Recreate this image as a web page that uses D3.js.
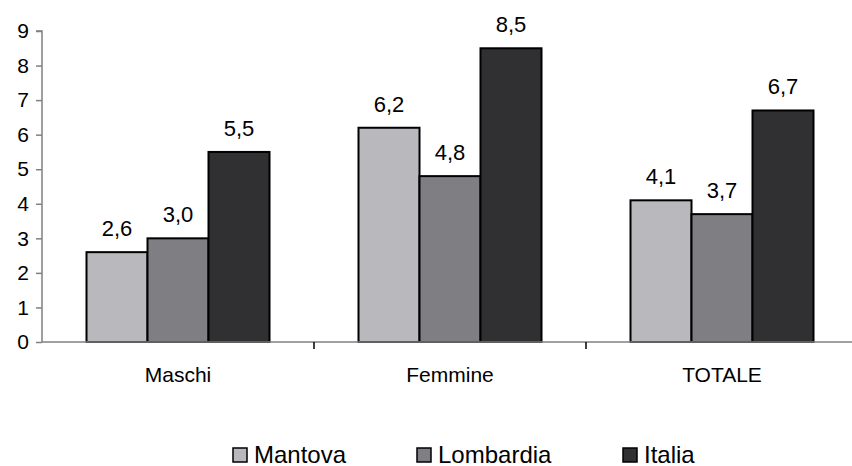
<!DOCTYPE html>
<html>
<head>
<meta charset="utf-8">
<script src="https://cdn.jsdelivr.net/npm/d3@7"></script>
<style>
  html, body { margin: 0; padding: 0; background: #fff; }
  svg { display: block; font-family: "Liberation Sans", Arial, sans-serif; }
</style>
</head>
<body>
<svg id="chart" width="852" height="466"></svg>
<script>
// Categories and series
const categories = ["Maschi", "Femmine", "TOTALE"];
const seriesNames = ["Mantova", "Lombardia", "Italia"];
const mantova = [2.6, 6.2, 4.1];
const lombardia = [3.0, 4.8, 3.7];
const italia = [5.5, 8.5, 6.7];
const yTicks = [0, 1, 2, 3, 4, 5, 6, 7, 8, 9];
const colors = ["#b9b9bd", "#7e7e83", "#303033"];

const seriesValues = [mantova, lombardia, italia];
const rows = categories.map((c, i) => ({
  category: c,
  values: seriesNames.map((s, j) => ({ series: s, value: seriesValues[j][i], idx: j }))
}));

const svg = d3.select("#chart");
const margin = { left: 42, top: 31, plotRight: 858, bottom: 342 };

const y = d3.scaleLinear().domain([0, 9]).range([margin.bottom, margin.top]);
const x0 = d3.scaleBand().domain(categories).range([margin.left, margin.plotRight]).paddingInner(0).paddingOuter(0);
const groupW = 183;
const x1 = d3.scaleBand().domain(seriesNames).range([0, groupW]).padding(0);

const fmt = v => d3.format(".1f")(v).replace(".", ",");

// Y axis
const yAxis = d3.axisLeft(y).tickValues(yTicks).tickSize(6).tickPadding(7).tickFormat(d3.format("d"));
const gy = svg.append("g").attr("transform", `translate(${margin.left},0)`).call(yAxis);
gy.select(".domain").attr("stroke", "#808080").attr("stroke-width", 1.5).attr("d", `M-6,${y(9)}H0V${y(0)}`);
gy.selectAll(".tick line").attr("stroke", "#808080").attr("stroke-width", 1.5);
gy.selectAll(".tick text").attr("font-size", 21).attr("fill", "#000").attr("font-family", "Liberation Sans, Arial, sans-serif");

// Bars
const groups = svg.append("g").selectAll("g")
  .data(rows).join("g")
  .attr("transform", d => `translate(${x0(d.category) + (x0.bandwidth() - groupW) / 2},0)`);

groups.selectAll("rect")
  .data(d => d.values).join("rect")
  .attr("x", d => x1(d.series))
  .attr("y", d => y(d.value))
  .attr("width", x1.bandwidth())
  .attr("height", d => y(0) - y(d.value))
  .attr("fill", d => colors[d.idx])
  .attr("stroke", "#000")
  .attr("stroke-width", 2);

groups.selectAll("text")
  .data(d => d.values).join("text")
  .attr("x", d => x1(d.series) + x1.bandwidth() / 2)
  .attr("y", d => y(d.value) - 16)
  .attr("text-anchor", "middle")
  .attr("font-size", 22)
  .attr("fill", "#000")
  .text(d => fmt(d.value));

// X axis
const gx = svg.append("g").attr("transform", `translate(0,${y(0)})`);
gx.append("line")
  .attr("x1", margin.left).attr("x2", 852)
  .attr("y1", 0).attr("y2", 0)
  .attr("stroke", "#808080").attr("stroke-width", 1.5);
// category separators between groups
gx.selectAll("line.sep")
  .data(categories.slice(1)).join("line")
  .attr("class", "sep")
  .attr("x1", d => x0(d)).attr("x2", d => x0(d))
  .attr("y1", 0).attr("y2", 7)
  .attr("stroke", "#000").attr("stroke-width", 1.5);
gx.selectAll("text.cat")
  .data(categories).join("text")
  .attr("class", "cat")
  .attr("x", d => x0(d) + x0.bandwidth() / 2)
  .attr("y", 40)
  .attr("text-anchor", "middle")
  .attr("font-size", 21)
  .attr("fill", "#000")
  .text(d => d);

// Legend
const legendX = [233, 417, 623];
const legend = svg.append("g").selectAll("g")
  .data(seriesNames).join("g")
  .attr("transform", (d, i) => `translate(${legendX[i]},448)`);
legend.append("rect")
  .attr("width", 14).attr("height", 14)
  .attr("fill", (d, i) => colors[i])
  .attr("stroke", "#000").attr("stroke-width", 1.5);
legend.append("text")
  .attr("x", 21).attr("y", 14.5)
  .attr("font-size", 24)
  .attr("fill", "#000")
  .text(d => d);
</script>
</body>
</html>
